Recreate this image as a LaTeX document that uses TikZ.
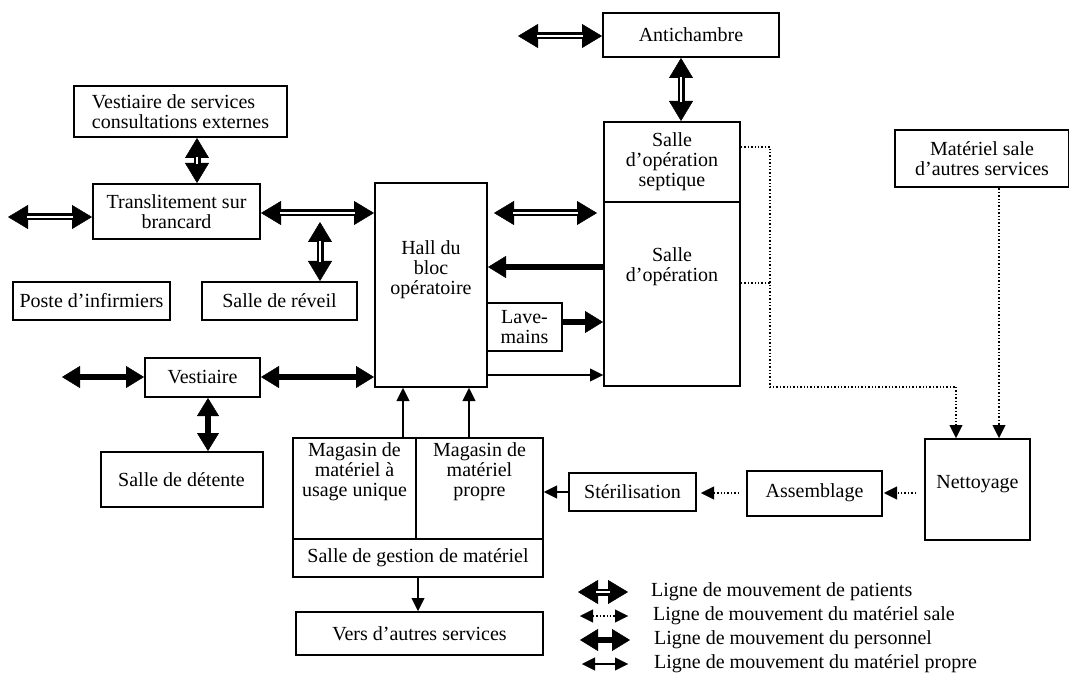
\documentclass[tikz,border=0pt]{standalone}
\usepackage{fontspec}
\setmainfont{Liberation Serif}
\usetikzlibrary{arrows.meta}
\newcommand\fsz{\fontsize{20}{20}\selectfont}
\tikzset{
  box/.style={draw, line width=2pt, inner sep=2pt, align=center, font=\fsz},
  lbl/.style={inner sep=0pt, align=center, font=\fsz},
  ptip/.tip={Triangle[length=20pt,width=24pt,line width=0.4pt]},
  etip/.tip={Triangle[length=18pt,width=22pt,line width=0.4pt]},
  stip/.tip={Triangle[length=13pt,width=13pt,line width=0.4pt]},
  pat/.style={line width=7pt, ptip-ptip},
  patin/.style={white, line width=2pt},
  pers/.style={line width=5.5pt, etip-etip},
  persone/.style={line width=5.5pt, -etip},
  dirty/.style={line width=1.4pt, dotted, -stip},
  dirtyline/.style={line width=1.4pt, dotted},
  dirtytwo/.style={line width=1.4pt, dotted, stip-stip},
  clean/.style={line width=1.5pt, -stip},
  cleantwo/.style={line width=1.5pt, stip-stip},
}
\newcommand\patarrow[4]{%
  \draw[pat, shorten <=#3, shorten >=#3] #1 -- #2;
  \draw[patin, shorten <=#4, shorten >=#4] #1 -- #2;}
\begin{document}
\begin{tikzpicture}[x=1pt,y=-1pt]
\useasboundingbox (0,0) rectangle (1069,679);
% boxes
\node[box, minimum width=176pt, minimum height=44pt] (ante) at (691,35) {Antichambre};
\node[box, minimum width=213pt, minimum height=51pt, align=left] (vsce) at (180.5,111.5) {Vestiaire de services\\consultations externes};
\node[box, minimum width=167pt, minimum height=55pt] (trans) at (176.5,211.5) {Translitement sur\\brancard};
\node[box, minimum width=157pt, minimum height=38pt] (poste) at (91.5,301) {Poste d’infirmiers};
\node[box, minimum width=155pt, minimum height=38pt] (reveil) at (279.5,301) {Salle de réveil};
\node[box, minimum width=115pt, minimum height=39pt] (vest) at (202.5,377.5) {Vestiaire};
\node[box, minimum width=162pt, minimum height=55pt] (detente) at (181.5,479.5) {Salle de détente};
\node[box, minimum width=112pt, minimum height=204pt] (hall) at (431,285) {};
\node[lbl] (hallt) at (431,270) {Hall du\\bloc\\opératoire};
\node[box, minimum width=75pt, minimum height=48pt] (lave) at (524.5,327) {Lave-\\mains};
\node[box, minimum width=136pt, minimum height=80pt] (sept) at (672,162) {Salle\\d’opération\\septique};
\node[box, minimum width=136pt, minimum height=184pt] (sop) at (672,294) {};
\node[lbl] (sopt) at (672,267) {Salle\\d’opération};
\node[box, minimum width=174pt, minimum height=57pt] (msale) at (982,159) {Matériel sale\\d’autres services};
\node[box, minimum width=105pt, minimum height=101pt] (nett) at (977.5,489.5) {};
\node[lbl] (nettt) at (977.5,484) {Nettoyage};
\node[box, minimum width=135pt, minimum height=45pt] (assem) at (814.5,493) {Assemblage};
\node[box, minimum width=127pt, minimum height=38pt] (steril) at (632.5,492) {Stérilisation};
\node[box, minimum width=123pt, minimum height=101pt] (mag1) at (354.5,488.5) {};
\node[box, minimum width=127pt, minimum height=101pt] (mag2) at (479.5,488.5) {};
\node[lbl] (mag1t) at (354.5,472) {Magasin de\\matériel à\\usage unique};
\node[lbl] (mag2t) at (479.5,472) {Magasin de\\matériel\\propre};
\node[box, minimum width=250pt, minimum height=38pt] (gest) at (418,558) {Salle de gestion de matériel};
\node[box, minimum width=247pt, minimum height=43pt] (vers) at (419.5,633.5) {Vers d’autres services};
% helper coordinates
\coordinate (pL) at (8,217);
\coordinate (pA) at (518,36);
\coordinate (pV) at (197,0);
\coordinate (pR) at (320,222);
\coordinate (pS) at (0,213);
\coordinate (pN) at (681,0);
\coordinate (eL) at (62,377);
\coordinate (eD) at (208,0);
\coordinate (h1) at (0,267);
\coordinate (h2) at (0,322);
\coordinate (h3) at (0,375);
\coordinate (c1) at (403,0);
\coordinate (c2) at (469,0);
\coordinate (sx) at (770,147);
\coordinate (sw) at (770,283);
\coordinate (sy) at (770,387);
\coordinate (sz) at (956,387);
\coordinate (mx) at (999,0);
% patient movements
\patarrow{(pL)}{(trans.west |- pL)}{0pt}{19pt}
\patarrow{(vsce.south -| pV)}{(trans.north -| pV)}{0pt}{19pt}
\patarrow{(trans.east |- pS)}{(hall.west |- pS)}{0pt}{19pt}
\patarrow{(pR)}{(reveil.north -| pR)}{0pt}{19pt}
\patarrow{(hall.east |- pS)}{(sop.west |- pS)}{6pt}{25pt}
\patarrow{(pA)}{(ante.west |- pA)}{0pt}{19pt}
\patarrow{(ante.south -| pN)}{(sept.north -| pN)}{0pt}{19pt}
% personnel movements
\draw[pers] (eL) -- (vest.west |- eL);
\draw[pers] (vest.east |- eL) -- (hall.west |- eL);
\draw[pers] (vest.south -| eD) -- (detente.north -| eD);
\draw[persone] (sop.west |- h1) -- (hall.east |- h1);
\draw[persone] (lave.east |- h2) -- (sop.west |- h2);
% clean material
\draw[clean] (hall.east |- h3) -- (sop.west |- h3);
\draw[clean] (mag1.north -| c1) -- (hall.south -| c1);
\draw[clean] (mag2.north -| c2) -- (hall.south -| c2);
\draw[clean] (gest.south) -- (vers.north -| gest.south);
\draw[clean] (steril.west) -- (steril.west -| mag2.east);
% dirty material
\draw[dirtyline] (sept.east |- sx) -- (sx) -- (sy) -- (sz);
\draw[dirtyline] (sop.east |- sw) -- (sw);
\draw[dirty] (sz) -- (nett.north -| sz);
\draw[dirty] (msale.south -| mx) -- (nett.north -| mx);
\draw[dirty, shorten <=7pt, shorten >=4pt] (assem.west) -- (steril.east |- assem.west);
\draw[dirty, shorten <=8pt, shorten >=1pt] (nett.west |- assem.east) -- (assem.east);
% legend
\coordinate (l1a) at (578,592); \coordinate (l1b) at (628,592);
\coordinate (l2a) at (580,616); \coordinate (l2b) at (628,616);
\coordinate (l3a) at (580,640); \coordinate (l3b) at (630,640);
\coordinate (l4a) at (582,664); \coordinate (l4b) at (628,664);
\patarrow{(l1a)}{(l1b)}{0pt}{18pt}
\draw[dirtytwo] (l2a) -- (l2b);
\draw[pers] (l3a) -- (l3b);
\draw[cleantwo] (l4a) -- (l4b);
\node[lbl, anchor=west] (t1) at (651,592) {Ligne de mouvement de patients};
\node[lbl, anchor=west] (t2) at (653,616) {Ligne de mouvement du matériel sale};
\node[lbl, anchor=west] (t3) at (654,640) {Ligne de mouvement du personnel};
\node[lbl, anchor=west] (t4) at (654,664) {Ligne de mouvement du matériel propre};
\end{tikzpicture}
\end{document}
